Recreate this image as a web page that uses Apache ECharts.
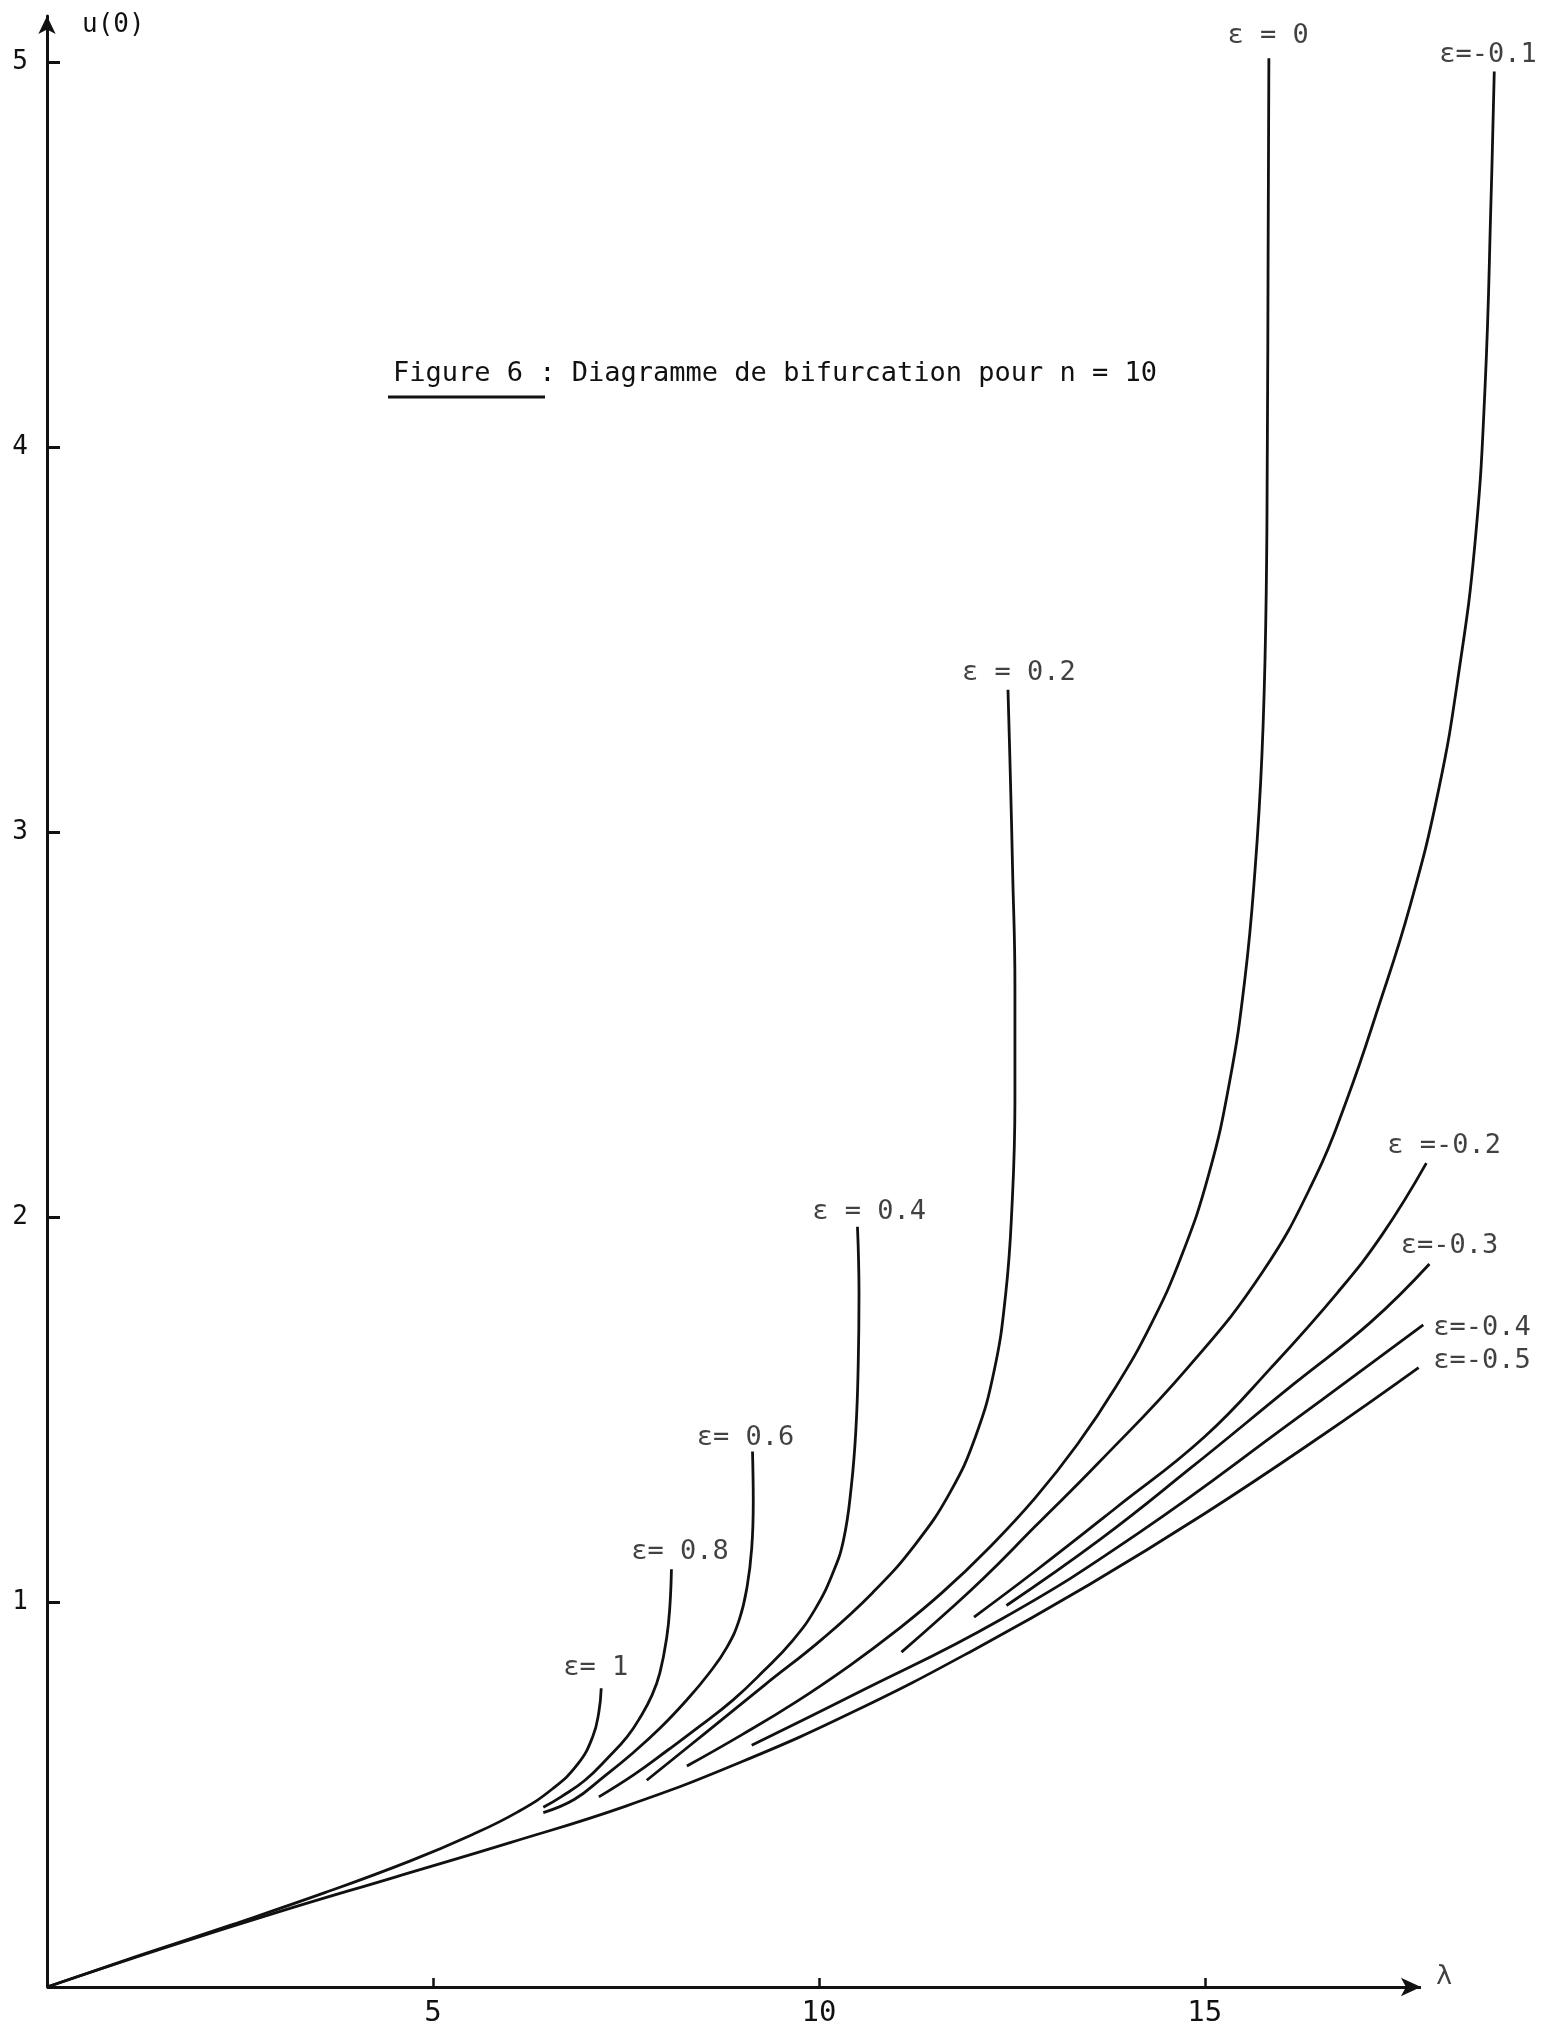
<!DOCTYPE html>
<html>
<head>
<meta charset="utf-8">
<script src="https://cdn.jsdelivr.net/npm/echarts@6/dist/echarts.min.js"></script>
<style>
  html, body { margin: 0; background: #fff; }
  #chart { width: 1546px; height: 2029px; }
</style>
</head>
<body>
<div id="chart"></div>
<script>
// courbes u(0) en fonction de lambda (n = 10)
const eps1 = [[0, 0], [1.2, 0.082], [2.4, 0.162], [3.6, 0.245], [4.7, 0.327], [5.5, 0.395], [6.1, 0.455],
  [6.55, 0.515], [6.88, 0.58], [7.07, 0.65], [7.15, 0.715], [7.18, 0.776]]
const eps08 = [[6.43, 0.467], [6.66, 0.494], [6.97, 0.537], [7.28, 0.598], [7.52, 0.651], [7.69, 0.702],
  [7.84, 0.759], [7.94, 0.816], [8.03, 0.91], [8.07, 0.99], [8.09, 1.085]]
const eps06 = [[6.43, 0.453], [6.83, 0.487], [7.2, 0.544], [7.59, 0.608], [7.94, 0.672], [8.29, 0.746],
  [8.57, 0.813], [8.81, 0.883], [8.97, 0.955], [9.07, 1.04], [9.13, 1.14], [9.15, 1.26], [9.14, 1.391]]
const eps04 = [[7.15, 0.494], [7.6, 0.551], [8.04, 0.615], [8.44, 0.675], [8.89, 0.746], [9.28, 0.82],
  [9.66, 0.9], [9.95, 0.981], [10.18, 1.075], [10.32, 1.162], [10.42, 1.3], [10.48, 1.45],
  [10.51, 1.62], [10.52, 1.8], [10.5, 1.975]]
const eps02 = [[7.77, 0.537], [8.5, 0.655], [9.3, 0.785], [10.05, 0.905], [10.7, 1.025], [11.25, 1.15],
  [11.7, 1.285], [12.03, 1.43], [12.27, 1.6], [12.42, 1.8], [12.5, 2.02], [12.54, 2.3], [12.54, 2.6],
  [12.51, 2.9], [12.48, 3.15], [12.45, 3.37]]
const eps0 = [[8.29, 0.574], [9.0, 0.655], [9.7, 0.74], [10.4, 0.835], [11.0, 0.925], [11.6, 1.025],
  [12.2, 1.14], [12.8, 1.27], [13.35, 1.41], [13.85, 1.56], [14.3, 1.72], [14.7, 1.9], [15.05, 2.11],
  [15.32, 2.35], [15.52, 2.62], [15.65, 2.9], [15.74, 3.2], [15.79, 3.55], [15.81, 4.0], [15.82, 4.5],
  [15.83, 5.01]]
const epsM01 = [[11.07, 0.87], [11.62, 0.967], [12.13, 1.061], [12.8, 1.196], [13.62, 1.361], [14.78, 1.609],
  [15.75, 1.858], [16.43, 2.103], [16.84, 2.305], [17.24, 2.54], [17.66, 2.809], [18.03, 3.111],
  [18.29, 3.414], [18.5, 3.75], [18.63, 4.153], [18.71, 4.657], [18.75, 4.976]]
const epsM02 = [[12.01, 0.961], [12.8, 1.08], [13.85, 1.245], [14.99, 1.428], [15.86, 1.609],
  [16.72, 1.804], [17.3, 1.955], [17.87, 2.14]]
const epsM03 = [[12.43, 0.991], [13.64, 1.162], [14.81, 1.347], [16.15, 1.566], [17.15, 1.727], [17.91, 1.878]]
const epsM04 = [[9.13, 0.628], [10.45, 0.759], [12.35, 0.954], [14.14, 1.179], [16.15, 1.471], [17.83, 1.72]]
const epsM05 = [[0, 0], [1.5, 0.1], [3.0, 0.195], [4.5, 0.285], [6.0, 0.375], [7.5, 0.47], [9.0, 0.585],
  [10.5, 0.72], [12.0, 0.875], [13.5, 1.045], [15.0, 1.23], [16.5, 1.43], [17.77, 1.609]]

const curveList = [eps1, eps08, eps06, eps04, eps02, eps0, epsM01, epsM02, epsM03, epsM04, epsM05]

// étiquettes des courbes et leur point d'ancrage (lambda, u)
const curveLabels = ['ε= 1', 'ε= 0.8', 'ε= 0.6', 'ε = 0.4', 'ε = 0.2', 'ε = 0',
  'ε=-0.1', 'ε =-0.2', 'ε=-0.3', 'ε=-0.4', 'ε=-0.5']
const labelAnchors = [[7.11, 0.829], [8.2, 1.13], [9.05, 1.426], [10.65, 2.013], [12.59, 3.413], [15.82, 5.068],
  [18.67, 5.018], [18.1, 2.184], [18.17, 1.925], [18.59, 1.712], [18.59, 1.626]]

const xTicks = [5, 10, 15]
const yTicks = [1, 2, 3, 4, 5]
const xAxisEnd = 17.8
const lambdaNameAt = [18.1, 0.025]

const FONT = 'DejaVu Sans Mono'
const INK = '#111'

const chart = echarts.init(document.getElementById('chart'))

chart.setOption({
  animation: false,
  backgroundColor: '#fff',
  textStyle: { fontFamily: FONT, color: INK },
  title: {
    text: 'Figure 6 : Diagramme de bifurcation pour n = 10',
    left: 388,
    top: 355,
    textStyle: { fontFamily: FONT, fontSize: 27, fontWeight: 'normal', color: INK }
  },
  graphic: [
    { type: 'line', shape: { x1: 388, y1: 397, x2: 545, y2: 397 }, style: { stroke: INK, lineWidth: 3 } }
  ],
  grid: { left: 47, right: 17, top: 16, bottom: 42, containLabel: false, outerBoundsMode: 'none' },
  xAxis: {
    type: 'value',
    min: 0,
    max: 19.2,
    axisLine: { show: false },
    axisTick: { inside: true, length: 9, customValues: xTicks, lineStyle: { color: INK, width: 2.5 } },
    axisLabel: { customValues: xTicks, margin: 12, fontFamily: FONT, fontSize: 29, color: INK },
    splitLine: { show: false }
  },
  yAxis: {
    type: 'value',
    min: 0,
    max: 5.12,
    name: 'u(0)',
    nameLocation: 'end',
    nameGap: -9,
    nameTextStyle: { fontFamily: FONT, fontSize: 26, color: INK, align: 'left', verticalAlign: 'middle', padding: [0, 0, 0, 35] },
    axisLine: { onZero: false, symbol: ['none', 'arrow'], symbolSize: [13, 18], lineStyle: { color: INK, width: 3 } },
    axisTick: { inside: true, length: 13, customValues: yTicks, lineStyle: { color: INK, width: 3 } },
    axisLabel: { customValues: yTicks, margin: 19, fontFamily: FONT, fontSize: 26, color: INK },
    splitLine: { show: false }
  },
  series: [
    ...curveList.map((data, i) => ({
      name: curveLabels[i],
      type: 'line',
      data: data,
      smooth: 0.45,
      showSymbol: false,
      silent: true,
      lineStyle: { color: INK, width: 2.8 }
    })),
    {
      // axe des lambda avec sa flèche
      type: 'line',
      data: [[0, 0]],
      showSymbol: false,
      silent: true,
      lineStyle: { width: 0 },
      markLine: {
        silent: true,
        animation: false,
        symbol: ['none', 'arrow'],
        symbolSize: [14, 20],
        label: { show: false },
        lineStyle: { color: INK, width: 3, type: 'solid' },
        data: [[{ coord: [0, 0] }, { coord: [xAxisEnd, 0] }]]
      }
    },
    {
      type: 'scatter',
      data: labelAnchors.map((p, i) => [p[0], p[1], curveLabels[i]]).concat([[lambdaNameAt[0], lambdaNameAt[1], 'λ']]),
      symbolSize: 1,
      silent: true,
      itemStyle: { color: 'transparent' },
      label: {
        show: true,
        position: 'inside',
        formatter: p => p.data[2],
        fontFamily: FONT,
        fontSize: 27,
        color: INK
      }
    }
  ]
})
</script>
</body>
</html>
